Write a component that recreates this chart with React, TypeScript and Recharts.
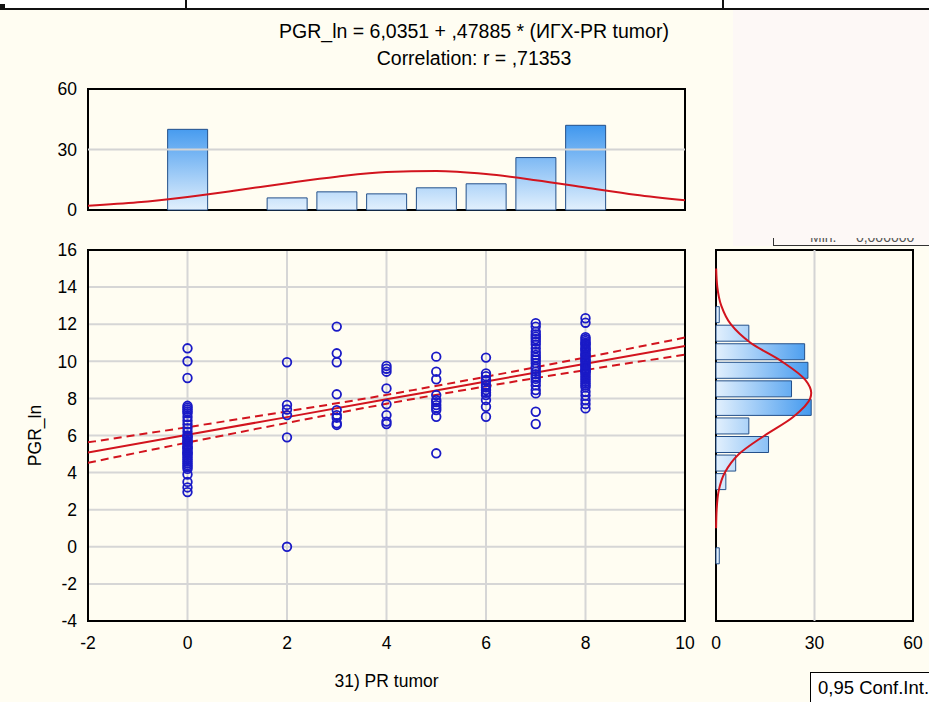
import { ComposedChart, Bar, Line, Scatter, XAxis, YAxis, CartesianGrid, ReferenceLine, ReferenceArea, Label } from 'recharts'

const FONT = '"Liberation Sans", Arial, sans-serif'

// top histogram: 31) PR tumor
const prBins = [0, 2, 3, 4, 5, 6, 7, 8]
const prCounts = [40, 6, 9, 8, 11, 13, 26, 42]
// fitted normal curve
const prCurveX = [-2, -1, 0, 1, 2, 3, 4, 5, 6, 7, 8, 9, 10]
const prCurveN = [2.1, 3.8, 6.5, 9.8, 13.3, 16.5, 18.8, 19.3, 17.8, 14.8, 11.2, 7.6, 4.8]

// right histogram: PGR_ln (bin centres)
const pgrBins = [12.5, 11.5, 10.5, 9.5, 8.5, 7.5, 6.5, 5.5, 4.5, 3.5, -0.5]
const pgrCounts = [1, 10, 27, 28, 23, 29, 10, 16, 6, 3, 1]
const pgrCurveY = [15, 14, 13, 12, 11, 10, 9, 8.3, 8, 7, 6, 5, 4, 3, 2, 1]
const pgrCurveN = [0.05, 0.4, 1.6, 4.5, 10.5, 20, 27.2, 29, 28.7, 23.5, 14.8, 7, 2.7, 0.8, 0.2, 0.03]

// scatter: PGR_ln for each PR tumor score
const pgrAt0 = [10.7, 10.0, 9.1, 7.6, 7.5, 7.4, 7.3, 7.2, 7.0, 6.8, 6.6, 6.4, 6.2, 6.0, 5.95, 5.9, 5.8, 5.7, 5.65, 5.6, 5.5, 5.4, 5.35, 5.3, 5.2, 5.1, 5.05, 5.0, 4.9, 4.8, 4.7, 4.6, 4.5, 4.4, 4.3, 4.2, 3.9, 3.5, 3.2, 2.95]
const pgrAt2 = [9.95, 7.65, 7.4, 7.1, 5.9, 0]
const pgrAt3 = [11.87, 10.43, 9.95, 8.22, 7.37, 7.1, 6.96, 6.66, 6.57]
const pgrAt4 = [9.75, 9.6, 9.44, 8.54, 7.68, 7.1, 6.75, 6.62]
const pgrAt5 = [10.25, 9.44, 9.03, 8.18, 7.91, 7.8, 7.64, 7.5, 7.37, 7.01, 5.04]
const pgrAt6 = [10.2, 9.35, 9.2, 9.0, 8.95, 8.72, 8.6, 8.45, 8.3, 8.18, 7.91, 7.55, 7.01]
const pgrAt7 = [12.05, 11.87, 11.6, 11.45, 11.33, 11.2, 11.06, 10.9, 10.7, 10.5, 10.34, 10.2, 10.07, 9.9, 9.71, 9.6, 9.44, 9.3, 9.17, 9.05, 8.9, 8.7, 8.45, 8.27, 7.28, 6.62]
const pgrAt8 = [12.32, 12.08, 11.3, 11.2, 11.1, 11.0, 10.95, 10.9, 10.8, 10.7, 10.65, 10.6, 10.5, 10.4, 10.35, 10.3, 10.2, 10.1, 10.05, 10.0, 9.9, 9.8, 9.75, 9.7, 9.6, 9.55, 9.5, 9.45, 9.4, 9.3, 9.2, 9.1, 9.0, 8.9, 8.8, 8.7, 8.6, 8.36, 8.15, 7.91, 7.7, 7.46]

// regression line and 0.95 confidence band
const fitX = [-2, 0, 2, 4, 4.66, 6, 8, 10]
const fitY = [5.08, 6.04, 6.99, 7.95, 8.27, 8.91, 9.87, 10.82]
const fitUpper = [5.63, 6.45, 7.3, 8.19, 8.51, 9.17, 10.21, 11.28]
const fitLower = [4.53, 5.62, 6.68, 7.71, 8.03, 8.65, 9.53, 10.36]

const xTicks = [-2, 0, 2, 4, 6, 8, 10]
const xInnerTicks = [0, 2, 4, 6, 8]
const yTicks = [-4, -2, 0, 2, 4, 6, 8, 10, 12, 14, 16]
const yMinorTicks = [-3, -2, -1, 0, 1, 2, 3, 4, 5, 6, 7, 8, 9, 10, 11, 12, 13, 14, 15]
const countTicks = [0, 30, 60]

const topData = prBins.map((x, i) => ({ x, n: prCounts[i] }))
const topCurve = prCurveX.map((x, i) => ({ x, n: prCurveN[i] }))
const sideData = pgrBins.map((bin, i) => ({ bin, n: pgrCounts[i] }))
const sideCurve = pgrCurveY.map((bin, i) => ({ bin, n: pgrCurveN[i] }))

const columns: [number, number[]][] = [
  [0, pgrAt0], [2, pgrAt2], [3, pgrAt3], [4, pgrAt4],
  [5, pgrAt5], [6, pgrAt6], [7, pgrAt7], [8, pgrAt8],
]
const points = columns.flatMap(([x, ys]) => ys.map((y) => ({ x, y })))
const fitData = fitX.map((x, i) => ({ x, fit: fitY[i], upper: fitUpper[i], lower: fitLower[i] }))

const AXIS_FS = 17.5
const tickStyle = { fontSize: AXIS_FS, fill: '#000', fontFamily: FONT }
const innerTick = { stroke: '#000', strokeWidth: 2 }
const RED = '#d2141e'

const Ring = (props: any) => (
  <circle cx={props.cx} cy={props.cy} r={4.3} fill="none" stroke="#1a1ac6" strokeWidth={1.8} />
)

export default function App() {
  return (
    <div style={{ position: 'absolute', left: 0, top: 0, width: 929, height: 702, background: '#fffdf2', overflow: 'hidden', fontFamily: FONT }}>
      {/* page borders at the top */}
      <div style={{ position: 'absolute', left: 0, top: 0, width: 929, height: 8, background: '#fff' }} />
      <div style={{ position: 'absolute', left: 0, top: 8, width: 929, height: 2, background: '#111' }} />
      <div style={{ position: 'absolute', left: 185, top: 0, width: 2, height: 9, background: '#111' }} />
      <div style={{ position: 'absolute', left: 722, top: 0, width: 2, height: 9, background: '#111' }} />
      <div style={{ position: 'absolute', left: 0, top: 4, width: 5, height: 5, background: '#111' }} />
      <div style={{ position: 'absolute', left: 733, top: 10, width: 196, height: 236, background: '#fdf8f6' }} />

      {/* statistics box, mostly hidden behind the plot as in the source */}
      <div style={{ position: 'absolute', left: 773, top: 238, width: 160, height: 7, overflow: 'hidden', borderLeft: '1px solid #333', borderBottom: '1px solid #333', color: '#555', fontSize: 14 }}>
        <div style={{ position: 'relative', top: -9, left: 36, whiteSpace: 'pre' }}>{'Min.     0,000000'}</div>
      </div>

      <div style={{ position: 'absolute', left: 150, top: 18, width: 648, textAlign: 'center', fontSize: 19.5, lineHeight: '27px', color: '#000' }}>
        <div>PGR_ln = 6,0351 + ,47885 * (ИГХ-PR tumor)</div>
        <div>Correlation: r = ,71353</div>
      </div>

      {/* top histogram */}
      <div style={{ position: 'absolute', left: 0, top: 79 }}>
        <ComposedChart width={700} height={140} data={topData} margin={{ top: 10, right: 15, bottom: 9, left: 8 }}>
          <defs>
            <linearGradient id="barTop" gradientUnits="userSpaceOnUse" x1="0" y1="46" x2="0" y2="131">
              <stop offset="0%" stopColor="#3f97ee" />
              <stop offset="100%" stopColor="#e2f0fd" />
            </linearGradient>
          </defs>
          <XAxis type="number" dataKey="x" domain={[-2, 10]} ticks={xInnerTicks} interval={0} height={0} mirror tick={false} axisLine={false} tickLine={innerTick} tickSize={5} allowDataOverflow />
          <XAxis xAxisId="top" orientation="top" type="number" domain={[-2, 10]} ticks={xInnerTicks} interval={0} height={0} mirror tick={false} axisLine={false} tickLine={innerTick} tickSize={5} allowDataOverflow />
          <XAxis xAxisId="curve" type="number" dataKey="x" domain={[-2, 10]} hide allowDataOverflow />
          <YAxis type="number" domain={[0, 60]} ticks={countTicks} width={80} axisLine={false} tickLine={false} tickMargin={5} tick={tickStyle} interval={0} />
          <YAxis yAxisId="right" orientation="right" type="number" domain={[0, 60]} ticks={[30]} width={0} mirror tick={false} axisLine={false} tickLine={innerTick} tickSize={5} />
          <ReferenceLine y={30} stroke="#d4d4d4" strokeWidth={2} />
          <Bar dataKey="n" barSize={40} fill="url(#barTop)" stroke="#24508a" strokeWidth={1} isAnimationActive={false} />
          <Line xAxisId="curve" data={topCurve} dataKey="n" type="monotone" stroke={RED} strokeWidth={2} dot={false} isAnimationActive={false} />
          <ReferenceArea x1={-2} x2={10} y1={0} y2={60} fill="none" stroke="#000" strokeWidth={2} />
        </ComposedChart>
      </div>

      {/* main scatter */}
      <div style={{ position: 'absolute', left: 0, top: 240 }}>
        <ComposedChart width={700} height={456} margin={{ top: 10, right: 15, bottom: 5, left: 8 }}>
          <CartesianGrid stroke="#d6d6d6" strokeWidth={2} />
          <XAxis type="number" dataKey="x" domain={[-2, 10]} ticks={xTicks} interval={0} height={70} axisLine={false} tickLine={false} tickMargin={10} tick={tickStyle} allowDataOverflow>
            <Label value="31) PR tumor" position="insideBottom" offset={4} style={{ fontSize: AXIS_FS, fill: '#000', fontFamily: FONT }} />
          </XAxis>
          <YAxis type="number" dataKey="y" domain={[-4, 16]} ticks={yTicks} interval={0} width={80} axisLine={false} tickLine={false} tickMargin={5} tick={tickStyle} allowDataOverflow>
            <Label value="PGR_ln" angle={-90} position="insideLeft" offset={27} style={{ fontSize: AXIS_FS, fill: '#000', fontFamily: FONT, textAnchor: 'middle' }} />
          </YAxis>
          <YAxis yAxisId="right" orientation="right" type="number" domain={[-4, 16]} ticks={yMinorTicks} interval={0} width={0} mirror tick={false} axisLine={false} tickLine={innerTick} tickSize={5} />
          <Scatter data={points} shape={Ring} isAnimationActive={false} />
          <Line data={fitData} dataKey="fit" type="linear" stroke={RED} strokeWidth={2} dot={false} isAnimationActive={false} />
          <Line data={fitData} dataKey="upper" type="monotone" stroke={RED} strokeWidth={2} strokeDasharray="8 5" dot={false} isAnimationActive={false} />
          <Line data={fitData} dataKey="lower" type="monotone" stroke={RED} strokeWidth={2} strokeDasharray="8 5" dot={false} isAnimationActive={false} />
          <ReferenceArea x1={-2} x2={10} y1={-4} y2={16} fill="none" stroke="#000" strokeWidth={2} />
        </ComposedChart>
      </div>

      {/* right histogram */}
      <div style={{ position: 'absolute', left: 706, top: 240 }}>
        <ComposedChart layout="vertical" width={223} height={456} data={sideData} margin={{ top: 10, right: 16, bottom: 5, left: 10 }}>
          <defs>
            <linearGradient id="barSide" gradientUnits="userSpaceOnUse" x1="10" y1="0" x2="108" y2="0">
              <stop offset="0%" stopColor="#e2f0fd" />
              <stop offset="100%" stopColor="#3f97ee" />
            </linearGradient>
          </defs>
          <XAxis type="number" domain={[0, 60]} ticks={countTicks} interval={0} height={70} axisLine={false} tickLine={false} tickMargin={10} tick={tickStyle} />
          <YAxis type="number" dataKey="bin" domain={[-4, 16]} ticks={yTicks.slice(1, -1)} interval={0} width={0} mirror tick={false} axisLine={false} tickLine={innerTick} tickSize={5} allowDataOverflow reversed />
          <YAxis yAxisId="right" orientation="right" type="number" domain={[-4, 16]} ticks={yTicks.slice(1, -1)} interval={0} width={0} mirror tick={false} axisLine={false} tickLine={innerTick} tickSize={5} reversed />
          <YAxis yAxisId="curve" type="number" dataKey="bin" domain={[-4, 16]} hide allowDataOverflow reversed />
          <ReferenceLine x={30} stroke="#d4d4d4" strokeWidth={2} />
          <Bar dataKey="n" barSize={16} fill="url(#barSide)" stroke="#24508a" strokeWidth={1} isAnimationActive={false} />
          <Line yAxisId="curve" data={sideCurve} dataKey="n" type="monotone" stroke={RED} strokeWidth={2} dot={false} isAnimationActive={false} />
          <ReferenceArea x1={0} x2={60} y1={-4} y2={16} fill="none" stroke="#000" strokeWidth={2} />
        </ComposedChart>
      </div>

      <div style={{ position: 'absolute', left: 810, top: 672, width: 140, height: 40, border: '1px solid #000', background: '#fff', fontSize: 18.5, paddingLeft: 7, paddingTop: 4, boxSizing: 'border-box' }}>
        0,95 Conf.Int.
      </div>
    </div>
  )
}
